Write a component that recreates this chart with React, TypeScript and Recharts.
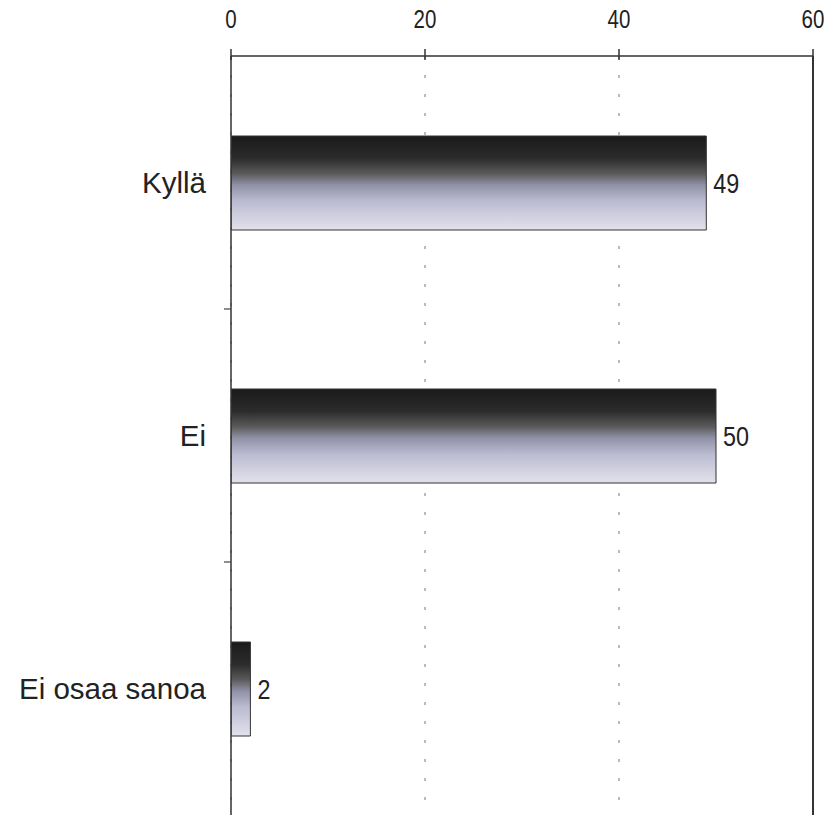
import React from 'react';
import { BarChart, Bar, XAxis, YAxis, CartesianGrid, LabelList, ReferenceLine } from 'recharts';

const categories = ['Kyllä', 'Ei', 'Ei osaa sanoa'];
const values = [49, 50, 2];
const xTicks = [0, 20, 40, 60];

const data = categories.map((name, i) => ({ name, value: values[i] }));

const W = 824;
const H = 817;
const MARGIN = { top: 0, right: 11, bottom: 2, left: 0 };
const X_AXIS_H = 56;
const Y_AXIS_W = 231;
const SANS = '"Liberation Sans", Arial, sans-serif';
const NARROW_SCALE = 0.82;

const plotH = H - MARGIN.top - MARGIN.bottom - X_AXIS_H;
const band = plotH / categories.length;

const XTick = (props: any) => {
  const { x, y, payload } = props;
  return (
    <g>
      <line x1={x} x2={x} y1={y - 7} y2={y + 4} stroke="#333" strokeWidth={1.5} />
      <text
        transform={`translate(${x}, ${y - 28}) scale(${NARROW_SCALE}, 1)`}
        x={0}
        y={0}
        textAnchor="middle"
        fontFamily={SANS}
        fontSize={25}
        fill="#222"
      >
        {payload.value}
      </text>
    </g>
  );
};

const YTick = (props: any) => {
  const { x, y, payload, index } = props;
  const showBoundary = index < categories.length - 1;
  return (
    <g>
      {showBoundary && (
        <line x1={x - 7} x2={x} y1={y + band / 2} y2={y + band / 2} stroke="#444" strokeWidth={1.2} />
      )}
      <text x={x - 25} y={y} dy="0.36em" textAnchor="end" fontFamily={SANS} fontSize={29.5} fill="#222">
        {payload.value}
      </text>
    </g>
  );
};

const ValueLabel = (props: any) => {
  const { x, y, width, height, value } = props;
  const lx = x + width + 7;
  const ly = y + height / 2;
  return (
    <text
      transform={`translate(${lx}, ${ly}) scale(${NARROW_SCALE}, 1)`}
      x={0}
      y={0}
      dy="0.34em"
      textAnchor="start"
      fontFamily={SANS}
      fontSize={28.5}
      fill="#222"
    >
      {value}
    </text>
  );
};

export default function App() {
  return (
    <div style={{ position: 'absolute', left: 0, top: 0, width: W, height: H, background: '#fff' }}>
      <BarChart width={W} height={H} data={data} layout="vertical" margin={MARGIN}>
        <defs>
          <linearGradient id="barGrad" x1="0" y1="0" x2="0" y2="1">
            <stop offset="0%" stopColor="#1a1a1a" />
            <stop offset="24%" stopColor="#2c2c2c" />
            <stop offset="40%" stopColor="#5a5a5a" />
            <stop offset="52%" stopColor="#9090a6" />
            <stop offset="70%" stopColor="#bcbcd2" />
            <stop offset="100%" stopColor="#e2e2ec" />
          </linearGradient>
        </defs>
        <CartesianGrid horizontal={false} vertical stroke="#777" strokeDasharray="3 16" xAxisId="top" />
        <XAxis
          xAxisId="top"
          type="number"
          orientation="top"
          domain={[0, 60]}
          ticks={xTicks}
          height={X_AXIS_H}
          tickSize={0}
          tickMargin={0}
          tickLine={false}
          tick={<XTick />}
          axisLine={{ stroke: '#333', strokeWidth: 1.5 }}
          allowDataOverflow
        />
        <XAxis
          xAxisId="bottom"
          type="number"
          orientation="bottom"
          domain={[0, 60]}
          height={0}
          tick={false}
          tickLine={false}
          axisLine={{ stroke: '#aaa', strokeWidth: 1.5 }}
        />
        <YAxis
          type="category"
          dataKey="name"
          width={Y_AXIS_W}
          tickSize={0}
          tickMargin={0}
          tickLine={false}
          tick={<YTick />}
          axisLine={{ stroke: '#333', strokeWidth: 1.5 }}
        />
        <ReferenceLine xAxisId="top" x={60} stroke="#333" strokeWidth={2} />
        <Bar
          xAxisId="top"
          dataKey="value"
          barSize={94}
          fill="url(#barGrad)"
          stroke="#333"
          strokeWidth={1}
          isAnimationActive={false}
        >
          <LabelList dataKey="value" content={<ValueLabel />} />
        </Bar>
      </BarChart>
    </div>
  );
}
